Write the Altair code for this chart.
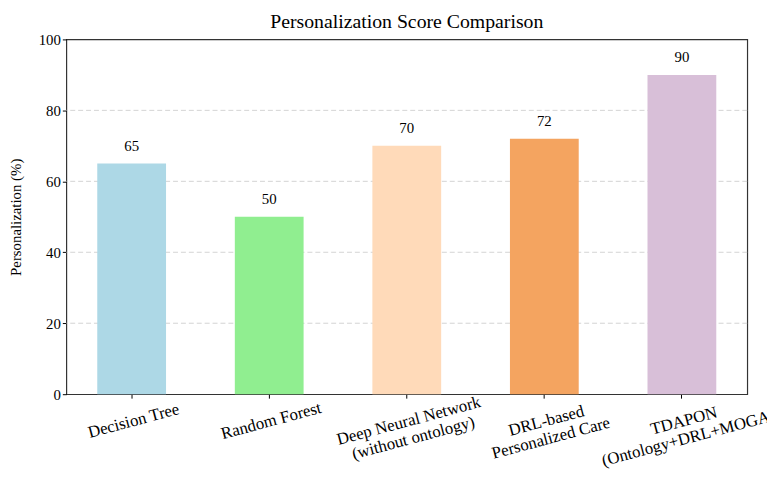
import altair as alt
import pandas as pd

categories = ["Decision Tree", "Random Forest", "Deep Neural Network|(without ontology)",
              "DRL-based|Personalized Care", "TDAPON|(Ontology+DRL+MOGA)"]
values = [65, 50, 70, 72, 90]
colors = ["#add8e6", "#90ee90", "#ffdab9", "#f4a460", "#d8bfd8"]
grid_values = [20, 40, 60, 80]

df = pd.DataFrame({"cat": categories, "val": values, "color": colors})
gdf = pd.DataFrame({"g": grid_values})

FONT = "Liberation Serif"

x = alt.X("cat:N", sort=categories, title=None,
          scale=alt.Scale(paddingInner=0.5, paddingOuter=0.225),
          axis=alt.Axis(labelAngle=-15, labelAlign="center", labelBaseline="top",
                        labelExpr="split(datum.label, '|')", labelFontSize=17,
                        labelFont=FONT, labelColor="black", labelPadding=15,
                        tickSize=4, tickColor="black", domain=False, grid=False,
                        labelLineHeight=18, labelLimit=500))
y = alt.Y("val:Q", title="Personalization (%)",
          scale=alt.Scale(domain=[0, 100], nice=False),
          axis=alt.Axis(values=[0, 20, 40, 60, 80, 100], labelFontSize=15, labelFont=FONT,
                        labelColor="black", titleFont=FONT, titleFontSize=15,
                        titleFontWeight="normal", titleColor="black", titlePadding=15,
                        tickSize=4, tickColor="black", domain=False, grid=False))

grid = alt.Chart(gdf).mark_rule(strokeDash=[5, 3], color="#c8c8c8", strokeWidth=0.8).encode(
    y=alt.Y("g:Q", scale=alt.Scale(domain=[0, 100], nice=False)))
bars = alt.Chart(df).mark_bar().encode(
    x=x, y=y, color=alt.Color("color:N", scale=None))
text = alt.Chart(df).mark_text(dy=-10, baseline="bottom", font=FONT, fontSize=15,
                               color="black").encode(
    x=alt.X("cat:N", sort=categories), y="val:Q", text="val:Q")

chart = (grid + bars + text).properties(
    width=689, height=359,
    title=alt.Title("Personalization Score Comparison", font=FONT, fontSize=20,
                    fontWeight="normal", color="black", offset=1),
    autosize=alt.AutoSizeParams(type="none"),
    padding={"left": 59, "top": 29, "right": 20, "bottom": 80},
).configure_view(stroke="#333333", strokeWidth=1.2)

chart.save("out.html", embed_options={"renderer": "svg", "actions": False})
